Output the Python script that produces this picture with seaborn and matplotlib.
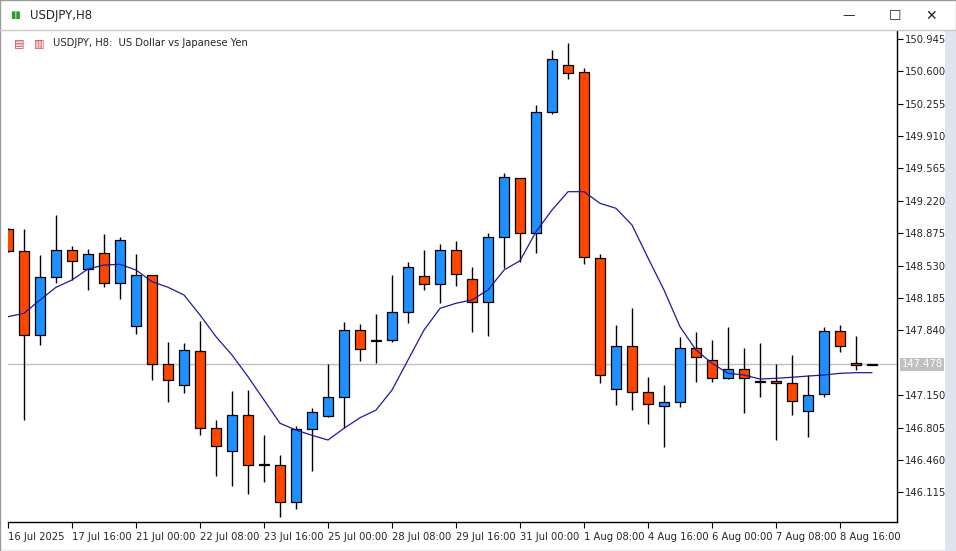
import matplotlib
matplotlib.use("Agg")
import matplotlib.pyplot as plt
import seaborn as sns
import numpy as np
import pandas as pd

sns.set_style("white")
plt.rcParams['font.family'] = ['DejaVu Sans']

opens  = [148.919,148.681,147.787,148.404,148.692,148.496,148.660,148.341,147.883,148.426,
          147.478,147.254,147.616,146.797,146.552,146.935,146.409,146.403,146.009,146.786,
          146.931,147.127,147.840,147.734,147.734,148.032,148.415,148.330,148.692,148.383,
          148.138,148.830,149.459,148.873,150.161,150.662,150.587,148.607,147.212,147.670,
          147.180,147.031,147.073,147.648,147.521,147.329,147.425,147.297,147.297,147.276,
          146.978,147.159,147.829,147.489,147.478]
highs  = [148.930,148.915,148.642,149.068,148.738,148.703,148.865,148.830,148.652,148.430,
          147.712,147.702,147.936,146.885,147.190,147.204,146.725,146.512,146.821,147.013,
          147.481,147.928,147.907,148.014,148.429,148.567,148.695,148.756,148.791,148.514,
          148.876,149.512,149.459,150.236,150.825,150.899,150.630,148.652,147.896,148.078,
          147.346,147.258,147.769,147.822,147.737,147.875,147.652,147.705,147.481,147.577,
          147.361,147.872,147.893,147.779,147.478]
lows   = [148.670,146.885,147.684,148.347,148.376,148.269,148.304,148.170,147.801,147.311,
          147.073,147.169,146.728,146.289,146.185,146.097,146.228,145.849,145.940,146.345,
          146.914,146.797,147.516,147.495,147.719,147.921,148.272,148.134,148.315,147.825,
          147.783,148.507,148.571,148.666,150.146,150.519,148.543,147.276,147.048,146.995,
          146.846,146.601,147.020,147.293,147.293,147.320,146.963,147.133,146.675,146.935,
          146.707,147.127,147.612,147.414,147.478]
closes = [148.684,147.787,148.404,148.692,148.575,148.649,148.341,148.798,148.426,147.478,
          147.308,147.627,146.797,146.605,146.935,146.403,146.409,146.009,146.786,146.967,
          147.127,147.840,147.638,147.734,148.032,148.511,148.330,148.692,148.436,148.138,
          148.830,149.469,148.873,150.161,150.726,150.577,148.617,147.361,147.670,147.180,
          147.052,147.073,147.648,147.553,147.329,147.425,147.329,147.297,147.276,147.084,
          147.148,147.829,147.670,147.467,147.478]
ma     = [147.985,148.021,148.163,148.298,148.376,148.493,148.535,148.543,148.482,148.358,
          148.298,148.216,148.003,147.772,147.577,147.346,147.098,146.850,146.778,146.722,
          146.672,146.797,146.909,146.991,147.204,147.524,147.843,148.074,148.128,148.163,
          148.269,148.482,148.581,148.890,149.121,149.316,149.316,149.192,149.139,148.961,
          148.610,148.269,147.878,147.630,147.489,147.382,147.364,147.321,147.329,147.340,
          147.353,147.364,147.382,147.389,147.389]
ytick_vals = [150.945,150.600,150.255,149.910,149.565,149.220,148.875,148.530,148.185,
              147.840,147.150,146.805,146.460,146.115]
bid = 147.478
xtick_labels = ["16 Jul 2025","17 Jul 16:00","21 Jul 00:00","22 Jul 08:00","23 Jul 16:00",
                "25 Jul 00:00","28 Jul 08:00","29 Jul 16:00","31 Jul 00:00","1 Aug 08:00",
                "4 Aug 16:00","6 Aug 00:00","7 Aug 08:00","8 Aug 16:00"]

df = pd.DataFrame({"i": np.arange(len(opens)), "o": opens, "h": highs, "l": lows, "c": closes, "ma": ma})

W, H = 956, 551
fig = plt.figure(figsize=(W/100, H/100), dpi=100)
fig.patch.set_facecolor("white")
# window frame / title bar
fig.add_artist(plt.Rectangle((0, 0), 1, 1, transform=fig.transFigure, fill=False, ec="#9a9a9a", lw=1))
fig.text(30/W, 1-15/H, "USDJPY,H8", fontsize=8.5, va="center", ha="left")
fig.text(16/W, 1-15/H, "▮▮", fontsize=7, color="#2a9d2a", va="center", ha="center")
fig.text(849/W, 1-16/H, "—", fontsize=9, va="center", ha="center")
fig.text(895/W, 1-16/H, "☐", fontsize=10, va="center", ha="center")
fig.text(931/W, 1-16/H, "✕", fontsize=10, va="center", ha="center")
fig.add_artist(plt.Line2D([0, 1], [1-30/H, 1-30/H], transform=fig.transFigure, color="#c8c8c8", lw=1))
fig.add_artist(plt.Rectangle((945/W, 0), 11/W, 1-30/H, transform=fig.transFigure, color="#dde6f0", lw=0))

ax = fig.add_axes([8/W, 1-522/H, 889/W, 491/H])
ax.set_xlim(0, 55.56)
ax.set_ylim(145.799, 151.027)

ax.axhline(bid, color="#c0c0c0", lw=1, zorder=1)

up = df["c"] >= df["o"]
ax.vlines(df["i"], df["l"], df["h"], color="black", lw=1, zorder=2)
bottoms = np.minimum(df["o"], df["c"])
heights = np.abs(df["c"] - df["o"])
colors = np.where(up, "#1e90ff", "#ff4500")
ax.bar(df["i"], np.maximum(heights, 0.012), bottom=bottoms - np.where(heights < 0.012, 0.006, 0),
       width=0.62, color=colors, edgecolor="black", linewidth=0.9, zorder=3)
sns.lineplot(data=df, x="i", y="ma", ax=ax, color="#1a1aa0", lw=0.9, zorder=4)
ax.set_xlabel(""); ax.set_ylabel("")

for s in ["top", "left"]:
    ax.spines[s].set_visible(False)
for s in ["right", "bottom"]:
    ax.spines[s].set_color("black"); ax.spines[s].set_linewidth(1)

ax.yaxis.tick_right()
ax.set_yticks(ytick_vals)
ax.set_yticklabels([f"{v:.3f}" for v in ytick_vals], fontsize=7.2)
ax.tick_params(axis="y", direction="out", length=4, pad=2, color="black", right=True)
ax.set_xticks(np.arange(0, 53, 4))
ax.set_xticklabels(xtick_labels, fontsize=7.2, ha="left")
ax.tick_params(axis="x", direction="out", length=4, pad=3, color="black", bottom=True)
ax.text(1.005, bid, "147.478", transform=ax.get_yaxis_transform(), fontsize=7.2, color="white",
        va="center", ha="left", bbox=dict(boxstyle="square,pad=0.15", fc="#c0c0c0", ec="none"))

fig.text(14/W, 1-43/H, "▤", fontsize=8, color="#d04040", va="center")
fig.text(34/W, 1-43/H, "▥", fontsize=8, color="#d04040", va="center")
fig.text(53/W, 1-43/H, "USDJPY, H8:  US Dollar vs Japanese Yen", fontsize=7.2, va="center")

fig.savefig("out.png", dpi=100)
